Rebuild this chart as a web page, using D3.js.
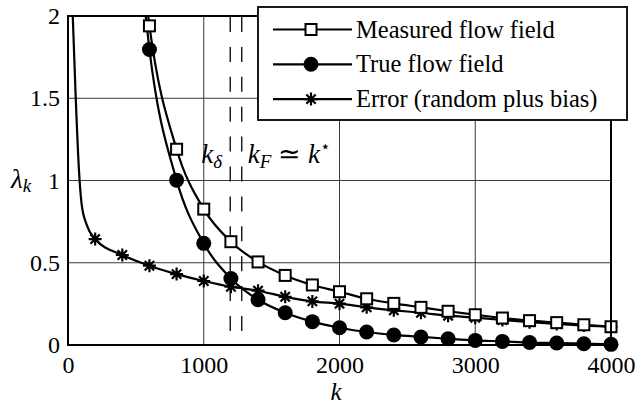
<!DOCTYPE html>
<html>
<head>
<meta charset="utf-8">
<script src="https://cdn.jsdelivr.net/npm/d3@7"></script>
</head>
<body style="margin:0;background:#fff">
<svg id="chart" width="644" height="405" style="display:block"></svg>
<script>
// Eigenvalue spectra: measured field, true field and the error part
const kMeasured = [600, 800, 1000, 1200, 1400, 1600, 1800, 2000, 2200, 2400, 2600, 2800, 3000, 3200, 3400, 3600, 3800, 4000];
const measured  = [1.94, 1.19, 0.826, 0.628, 0.505, 0.423, 0.365, 0.324, 0.281, 0.253, 0.229, 0.205, 0.184, 0.164, 0.148, 0.136, 0.123, 0.111];
const kTrue = [600, 800, 1000, 1200, 1400, 1600, 1800, 2000, 2200, 2400, 2600, 2800, 3000, 3200, 3400, 3600, 3800, 4000];
const trueField = [1.796, 1.002, 0.618, 0.404, 0.275, 0.196, 0.142, 0.105, 0.079, 0.061, 0.049, 0.038, 0.028, 0.022, 0.015, 0.012, 0.008, 0.004];
const kError = [200, 400, 600, 800, 1000, 1200, 1400, 1600, 1800, 2000, 2200, 2400, 2600, 2800, 3000, 3200, 3400, 3600, 3800, 4000];
const errorField = [0.644, 0.547, 0.482, 0.431, 0.389, 0.354, 0.330, 0.293, 0.265, 0.251, 0.229, 0.211, 0.196, 0.178, 0.166, 0.152, 0.139, 0.128, 0.118, 0.111];

// Leading parts of the curves (before the first marker), running off the top
const measuredLeadK = [580];
const measuredLead  = [2.07];
const trueLeadK = [560];
const trueLead  = [2.09];
const errorLeadK = [35, 57, 81, 100, 138];
const errorLead  = [2.0, 1.5, 1.06, 0.86, 0.73];

// Cut-off indices marked with dashed lines
const kCuts = [1195, 1280];

const xTicks = [0, 1000, 2000, 3000, 4000];
const yTicks = [0, 0.5, 1, 1.5, 2];
const yTickLabels = ["0", "0.5", "1", "1.5", "2"];
const seriesNames = ["Measured flow field", "True flow field", "Error (random plus bias)"];

const FONT = "Liberation Serif";
const serif = sel => sel.attr("font-family", FONT).style("font-family", FONT);

const svg = d3.select("#chart");
const x = d3.scaleLinear().domain([0, 4000]).range([68, 611]);
const y = d3.scaleLinear().domain([0, 2]).range([345, 16]);

svg.append("defs").append("clipPath").attr("id", "plotClip")
  .append("rect")
  .attr("x", x(0)).attr("y", y(2))
  .attr("width", x(4000) - x(0)).attr("height", y(0) - y(2));

// grid
const grid = svg.append("g").attr("stroke", "#3a3a3a").attr("stroke-width", 1);
grid.selectAll("line.gx").data(xTicks.slice(1, -1)).join("line")
  .attr("x1", d => x(d)).attr("x2", d => x(d))
  .attr("y1", y(0)).attr("y2", y(2));
grid.selectAll("line.gy").data(yTicks.slice(1, -1)).join("line")
  .attr("y1", d => y(d)).attr("y2", d => y(d))
  .attr("x1", x(0)).attr("x2", x(4000));

// dashed cut-off lines
svg.append("g").selectAll("line").data(kCuts).join("line")
  .attr("x1", d => x(d)).attr("x2", d => x(d))
  .attr("y1", y(2) + 1).attr("y2", y(0))
  .attr("stroke", "#000").attr("stroke-width", 1.3)
  .attr("stroke-dasharray", "15,14.9");

// annotation labels
const t1 = svg.append("text").attr("x", x(981)).attr("y", 163).attr("font-size", 27).style("font-style", "italic").call(serif);
t1.append("tspan").text("k");
t1.append("tspan").attr("font-size", 19).attr("dy", 5).text("δ");
const t2 = svg.append("text").attr("x", x(1325)).attr("y", 163).attr("font-size", 27).style("font-style", "italic").call(serif);
t2.append("tspan").text("k");
t2.append("tspan").attr("font-size", 19).attr("dy", 5).text("F");
t2.append("tspan").attr("dy", -5).style("font-style", "normal").text(" ≃ ");
t2.append("tspan").text("k");
t2.append("tspan").attr("font-size", 17).attr("dy", -11).style("font-style", "normal").text("⋆");

// axes
const xAxis = svg.append("g").attr("transform", `translate(0,${y(0)})`)
  .call(d3.axisBottom(x).tickValues(xTicks).tickSize(0).tickPadding(11).tickFormat(d3.format("d")));
const yAxis = svg.append("g").attr("transform", `translate(${x(0)},0)`)
  .call(d3.axisLeft(y).tickValues(yTicks).tickSize(0).tickPadding(8).tickFormat((d, i) => yTickLabels[i]));
[xAxis, yAxis].forEach(a => {
  a.select(".domain").remove();
  a.call(serif).attr("font-size", 24);
  a.selectAll("text").call(serif).attr("font-size", 24).attr("fill", "#000");
});

// axis titles
svg.append("text").attr("x", 336).attr("y", 399.5).attr("text-anchor", "middle")
  .attr("font-size", 25).style("font-style", "italic").call(serif).text("k");
const yl = svg.append("text").attr("x", 11).attr("y", 188)
  .attr("font-size", 27).style("font-style", "italic").call(serif);
yl.append("tspan").text("λ");
yl.append("tspan").attr("font-size", 19).attr("dy", 4).text("k");

// curves
const line = d3.line().x(d => x(d[0])).y(d => y(d[1])).curve(d3.curveMonotoneX);
const plot = svg.append("g").attr("clip-path", "url(#plotClip)");
const pairs = (ks, vs) => ks.map((k, i) => [k, vs[i]]);
const curves = [
  pairs(measuredLeadK, measuredLead).concat(pairs(kMeasured, measured)),
  pairs(trueLeadK, trueLead).concat(pairs(kTrue, trueField)),
  pairs(errorLeadK, errorLead).concat(pairs(kError, errorField))
];
plot.selectAll("path.curve").data(curves).join("path")
  .attr("class", "curve")
  .attr("d", line).attr("fill", "none").attr("stroke", "#000").attr("stroke-width", 2.2);

// marker painters
function drawSquare(g, cx, cy) {
  g.append("rect").attr("x", cx - 5.5).attr("y", cy - 5.5).attr("width", 11).attr("height", 11)
    .attr("fill", "#fff").attr("stroke", "#000").attr("stroke-width", 2);
}
function drawCircle(g, cx, cy) {
  g.append("circle").attr("cx", cx).attr("cy", cy).attr("r", 7.5).attr("fill", "#000");
}
function drawStar(g, cx, cy) {
  const r = 6.5, d = r * 0.72;
  const p = `M${cx - r},${cy}L${cx + r},${cy}M${cx},${cy - r}L${cx},${cy + r}` +
            `M${cx - d},${cy - d}L${cx + d},${cy + d}M${cx - d},${cy + d}L${cx + d},${cy - d}`;
  g.append("path").attr("d", p).attr("stroke", "#000").attr("stroke-width", 2.2).attr("fill", "none");
}

const marks = svg.append("g");
kError.forEach((k, i) => drawStar(marks, x(k), y(errorField[i])));
kMeasured.forEach((k, i) => drawSquare(marks, x(k), y(measured[i])));
kTrue.forEach((k, i) => drawCircle(marks, x(k), y(trueField[i])));

// frame
svg.append("rect").attr("x", x(0)).attr("y", y(2))
  .attr("width", x(4000) - x(0)).attr("height", y(0) - y(2))
  .attr("fill", "none").attr("stroke", "#000").attr("stroke-width", 2);

// legend
const lg = svg.append("g");
lg.append("rect").attr("x", 258).attr("y", 7).attr("width", 369).attr("height", 113)
  .attr("fill", "#fff").attr("stroke", "#000").attr("stroke-width", 1.8);
const painters = [drawSquare, drawCircle, drawStar];
seriesNames.forEach((name, i) => {
  const cy = 29.5 + i * 34.8;
  lg.append("line").attr("x1", 273).attr("x2", 352).attr("y1", cy).attr("y2", cy)
    .attr("stroke", "#000").attr("stroke-width", 2.2);
  painters[i](lg, 311, cy);
  lg.append("text").attr("x", 356).attr("y", cy).attr("dy", "0.33em")
    .call(serif).attr("font-size", 24.5).text(name);
});
</script>
</body>
</html>
